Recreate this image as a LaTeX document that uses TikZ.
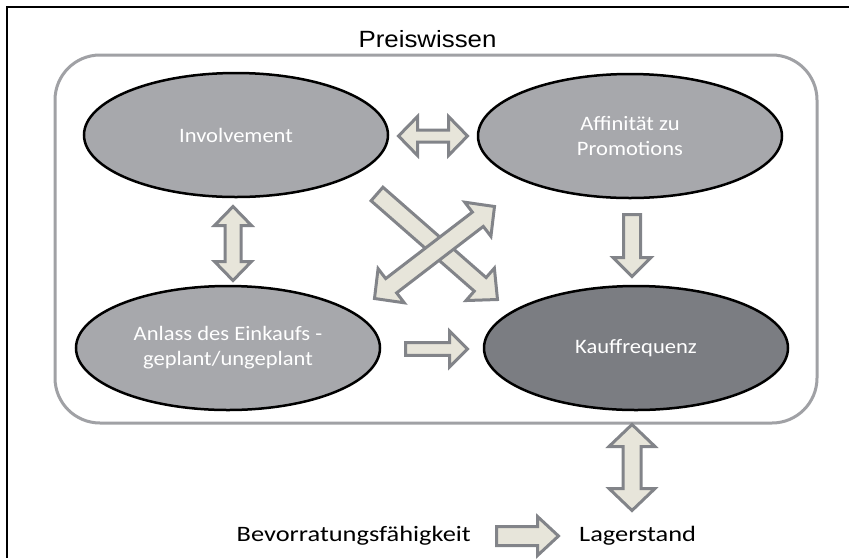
\documentclass[tikz,border=0pt]{standalone}
\usepackage{fontspec}
\setmainfont{Carlito}[FakeStretch=1.1]
\newfontfamily\widefont{Carlito}[FakeStretch=1.2]
\newfontfamily\headfont{Liberation Sans}[FakeStretch=1.1]
\usetikzlibrary{shapes.geometric,calc}

\definecolor{ovalgray}{RGB}{167,168,172}
\definecolor{ovaldark}{RGB}{123,125,130}
\definecolor{boxline}{RGB}{160,161,165}
\definecolor{arrowfill}{RGB}{231,229,218}
\definecolor{arrowline}{RGB}{130,132,137}

\tikzset{
  oval/.style={ellipse, draw=black, line width=2.5pt, fill=ovalgray,
    minimum width=304pt, minimum height=124pt, inner sep=0pt,
    align=center, text=white, font=\fontsize{20.5}{25}\selectfont},
  arrowbox/.style={draw=arrowline, fill=arrowfill, line width=3pt, line join=miter},
  plaintext/.style={inner sep=0pt, font=\widefont\fontsize{22}{26}\selectfont}
}

% block arrow: tail, tip, half shaft, half head, head length
\newcommand{\onearrow}[5]{%
  \coordinate (hb) at ($(#2)!#5!(#1)$);
  \draw[arrowbox] ($(#1)!#3!90:(#2)$) -- ($(hb)!#3!90:(#2)$) -- ($(hb)!#4!90:(#2)$)
    -- (#2) -- ($(hb)!#4!-90:(#2)$) -- ($(hb)!#3!-90:(#2)$) -- ($(#1)!#3!-90:(#2)$) -- cycle;
}
\newcommand{\twoarrow}[5]{%
  \coordinate (ha) at ($(#1)!#5!(#2)$);
  \coordinate (hb) at ($(#2)!#5!(#1)$);
  \draw[arrowbox] (#1) -- ($(ha)!#4!90:(#2)$) -- ($(ha)!#3!90:(#2)$) -- ($(hb)!#3!90:(#2)$)
    -- ($(hb)!#4!90:(#2)$) -- (#2) -- ($(hb)!#4!-90:(#2)$) -- ($(hb)!#3!-90:(#2)$)
    -- ($(ha)!#3!-90:(#2)$) -- ($(ha)!#4!-90:(#2)$) -- cycle;
}

\begin{document}
\begin{tikzpicture}[x=1pt, y=-1pt]
  \useasboundingbox (0,0) rectangle (849,558);
  \draw[line width=1.5pt] (849,7) -- (7,7) -- (7,558);

  % frame and heading
  \draw[boxline, line width=3pt, fill=white, rounded corners=45pt] (55,55) rectangle (817,423);
  \node[anchor=base, inner sep=0pt, font=\headfont\fontsize{23.5}{28}\selectfont] (preis) at (427.5,47) {Preiswissen};

  % the four ovals
  \node[oval] (inv) at (236,135) {Involvement};
  \node[oval] (aff) at (630,136) {Affinität zu\\Promotions};
  \node[oval] (anl) at (228,348) {Anlass des Einkaufs -\\geplant/ungeplant};
  \node[oval, fill=ovaldark] (kauf) at (636,348) {Kauffrequenz};

  % below the frame
  \node[plaintext, anchor=base east] (bev) at (471,541) {Bevorratungsfähigkeit};
  \node[plaintext, anchor=base west] (lager) at (579,541) {Lagerstand};

  % arrow ends
  \coordinate (ia1) at (398.5,136);  \coordinate (ia2) at (467.5,136);
  \coordinate (ian1) at (233,206.5); \coordinate (ian2) at (233,280.5);
  \coordinate (ak1) at (632,214.5);  \coordinate (ak2) at (632,276.5);
  \coordinate (nk1) at (405.5,349);  \coordinate (nk2) at (467.5,349);
  \coordinate (kl1) at (632,424.5);  \coordinate (kl2) at (632,510.5);
  \coordinate (bl1) at (496.5,536);  \coordinate (bl2) at (558.5,536);
  \coordinate (dg1) at (377,194);    \coordinate (dg2) at (497.5,299.5);
  \coordinate (dh1) at (374.5,298.5); \coordinate (dh2) at (494.5,206.5);

  \twoarrow{ia1}{ia2}{6pt}{19.5pt}{19pt}
  \twoarrow{ian1}{ian2}{8pt}{18.5pt}{19pt}
  \onearrow{ak1}{ak2}{8.5pt}{19pt}{19pt}
  \onearrow{nk1}{nk2}{6.3pt}{18pt}{18pt}
  \twoarrow{kl1}{kl2}{9pt}{23pt}{22pt}
  \onearrow{bl1}{bl2}{9.5pt}{19.5pt}{21pt}
  \onearrow{dg1}{dg2}{9pt}{21.5pt}{23pt}
  \twoarrow{dh1}{dh2}{9pt}{21.5pt}{21pt}
\end{tikzpicture}
\end{document}
